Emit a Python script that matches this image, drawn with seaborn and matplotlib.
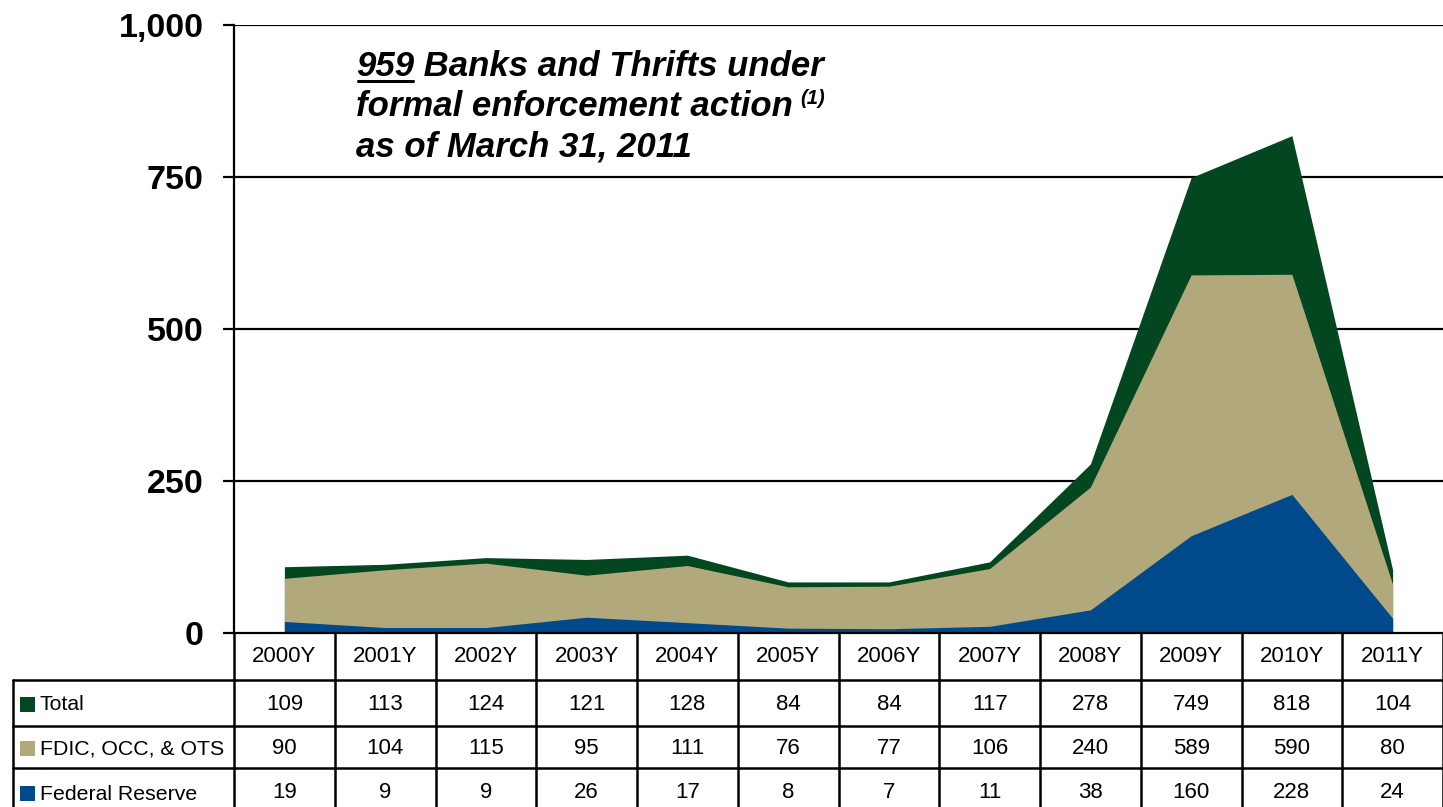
import numpy as np
import pandas as pd
import matplotlib
matplotlib.use("Agg")
import matplotlib.pyplot as plt
import seaborn as sns
from matplotlib.transforms import IdentityTransform, blended_transform_factory
from matplotlib.patches import Rectangle
from matplotlib.lines import Line2D

# ---------------- data ----------------
years = ["2000Y", "2001Y", "2002Y", "2003Y", "2004Y", "2005Y",
         "2006Y", "2007Y", "2008Y", "2009Y", "2010Y", "2011Y"]
total = [109, 113, 124, 121, 128, 84, 84, 117, 278, 749, 818, 104]
fdic_occ_ots = [90, 104, 115, 95, 111, 76, 77, 106, 240, 589, 590, 80]
federal_reserve = [19, 9, 9, 26, 17, 8, 7, 11, 38, 160, 228, 24]
series_names = ["Total", "FDIC, OCC, & OTS", "Federal Reserve"]
colors = ["#02471F", "#B1A87B", "#004A8C"]
yticks = [0, 250, 500, 750, 1000]
ytick_labels = ["0", "250", "500", "750", "1,000"]

sns.set_theme(style="white")
plt.rcParams['font.family'] = ['Liberation Sans', 'DejaVu Sans']

W, H = 1443, 807
fig = plt.figure(figsize=(W / 100, H / 100), dpi=100)
fig.patch.set_facecolor("white")

# table axes in pixel coordinates (behind)
tab = fig.add_axes([0, 0, 1, 1], zorder=0)
tab.set_xlim(0, W)
tab.set_ylim(H, 0)
tab.axis("off")

ax = fig.add_axes([234 / W, (H - 633) / H, (W - 234) / W, 608 / H], zorder=1)
ax.set_facecolor("none")

x = np.arange(len(years))
series_vals = [total, fdic_occ_ots, federal_reserve]
df = pd.DataFrame({
    "x": np.tile(x, 3),
    "value": np.concatenate(series_vals),
    "series": np.repeat(series_names, len(years)),
})
sns.lineplot(data=df, x="x", y="value", hue="series", hue_order=series_names,
             palette=colors, legend=False, ax=ax, lw=0, zorder=3)
for vals, c in zip(series_vals, colors):
    ax.fill_between(x, 0, vals, color=c, lw=0, zorder=2)

ax.set_xlim(-0.5, 11.5)
ax.set_ylim(0, 1000)
ax.set_xticks([])
ax.set_xlabel("")
ax.set_ylabel("")
ax.set_yticks(yticks)
ax.set_yticklabels(ytick_labels, fontsize=24.5, fontweight="bold", color="black")
for t in yticks[1:]:
    ax.axhline(t, color="black", lw=1.6, zorder=1)
ax.tick_params(axis="y", direction="out", length=8, width=1.6, color="black",
               pad=14, left=True)
for s in ["top", "right"]:
    ax.spines[s].set_visible(False)
for s in ["left", "bottom"]:
    ax.spines[s].set_visible(True)
    ax.spines[s].set_color("black")
    ax.spines[s].set_linewidth(1.6)
    ax.spines[s].set_zorder(4)

# ---------------- table ----------------
tr = blended_transform_factory(ax.transData, tab.transData)
row_lines = [680, 726, 768]
row_centers = [704, 748, 793]
header_center = 656
fs_tab = 16
fs_lab = 15.3
lw_tab = 1.8

for yl in row_lines:
    tab.add_line(Line2D([13, W], [yl, yl], color="black", lw=lw_tab))
tab.add_line(Line2D([13, 13], [680, H], color="black", lw=lw_tab))
for i in range(len(years) + 1):
    tab.add_line(Line2D([i - 0.5, i - 0.5], [633, H], color="black", lw=lw_tab,
                        transform=tr))
for i, yr in enumerate(years):
    tab.text(i, header_center, yr, transform=tr, ha="center", va="center",
             fontsize=fs_tab, color="black")
for r, (name, vals, c) in enumerate(zip(series_names, series_vals, colors)):
    yc = row_centers[r]
    tab.add_patch(Rectangle((20, yc - 7.5), 15, 15, color=c, lw=0))
    tab.text(40, yc + 1, name, ha="left", va="center", fontsize=fs_lab, color="black")
    for i, v in enumerate(vals):
        tab.text(i, yc, str(v), transform=tr, ha="center", va="center",
                 fontsize=fs_tab, color="black")

# ---------------- annotation title ----------------
idt = IdentityTransform()
fs_t = 25
kw = dict(fontsize=fs_t, fontweight="bold", fontstyle="italic", color="black",
          transform=idt, va="baseline", ha="left")
x0 = 356
t959 = fig.text(x0, H - 76, "959", **kw)
fig.canvas.draw()
r = fig.canvas.get_renderer()
bb = t959.get_window_extent(r)
fig.add_artist(Line2D([bb.x0 + 2, bb.x1 - 1], [H - 81, H - 81], color="black", lw=2.2,
                      transform=idt))
fig.text(bb.x1, H - 76, " Banks and Thrifts under", **kw)
t2 = fig.text(x0, H - 116, "formal enforcement action", **kw)
fig.canvas.draw()
bb2 = t2.get_window_extent(r)
kw_s = dict(kw)
kw_s["fontsize"] = 14.5
fig.text(bb2.x1 + 7, H - 104, "(1)", **kw_s)
fig.text(x0, H - 156, "as of March 31, 2011", **kw)

fig.savefig("out.png", dpi=100)
